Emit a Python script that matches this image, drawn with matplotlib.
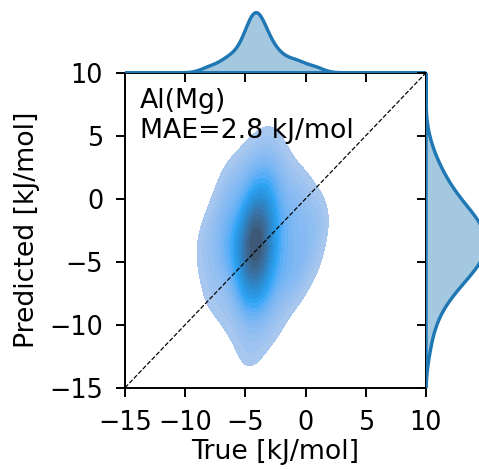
import matplotlib
matplotlib.use("Agg")
import matplotlib.pyplot as plt
import seaborn as sns

# Estimated sample points (True, Predicted) in kJ/mol, read off the density shape
true_kj = [
    -4.8, -4.2, -5.2, -3.6, -5.8, -4.4, -2.9,
    -6.6, -5.0, -4.2, -3.3, -2.2,
    -7.4, -6.0, -5.0, -4.5, -4.1, -3.6, -2.7, -1.5,
    -7.9, -5.9, -5.0, -4.6, -4.35, -4.15, -3.9, -3.5, -2.8, -1.8, -0.7,
    -7.6, -6.5, -5.4, -4.9, -4.6, -4.45, -4.3, -4.15, -4.0, -3.7, -3.3, -2.7, -1.9, -0.9, -0.5,
    -8.2, -6.7, -6.0, -5.3, -4.9, -4.6, -4.45, -4.35, -4.25, -4.15, -4.05, -3.9, -3.7, -3.4, -2.9, -2.2, -1.4, -0.4, 0.6,
    -8.2, -6.8, -6.4, -5.7, -5.2, -4.9, -4.65, -4.5, -4.35, -4.25, -4.2, -4.1, -4.0, -3.85, -3.65, -3.4, -3.0, -2.5, -1.7, -0.6, 0.5,
    -8.3, -6.6, -6.2, -5.5, -5.1, -4.8, -4.6, -4.45, -4.3, -4.2, -4.1, -4.0, -3.9, -3.75, -3.55, -3.3, -2.9, -2.3, -1.4, -0.3, 0.9,
    -7.9, -6.9, -5.8, -5.1, -4.75, -4.5, -4.3, -4.15, -4.05, -3.95, -3.8, -3.6, -3.35, -3.0, -2.5, -1.8, -0.8, 0.4, 1.1,
    -7.2, -6.3, -5.2, -4.6, -4.3, -4.1, -3.95, -3.8, -3.6, -3.3, -2.9, -2.2, -1.2, -0.6, 1.1,
    -6.9, -5.7, -4.6, -4.1, -3.85, -3.6, -3.3, -2.8, -2.0, -0.7, 0.6,
    -6.2, -5.6, -4.5, -3.9, -3.4, -2.8, -1.8, -0.3,
    -6.4, -4.8, -3.9, -3.2, -2.4, -0.9,
    -5.3, -4.0, -3.0, -1.8,
    -4.2, -2.7,
    -3.2,
]
pred_kj = [
    -12.6, -12.0, -11.2, -10.8, -10.1, -9.8, -10.3,
    -9.2, -8.8, -9.1, -8.9, -9.3,
    -8.3, -7.8, -8.1, -7.6, -8.2, -7.7, -8.0, -7.9,
    -7.2, -6.8, -7.1, -6.9, -7.3, -6.7, -7.0, -7.2, -6.6, -7.1, -6.9,
    -6.2, -5.8, -6.1, -5.9, -6.3, -5.7, -6.0, -6.2, -5.6, -6.1, -5.9, -6.3, -5.7, -6.0, -6.1,
    -5.2, -4.8, -5.1, -4.9, -5.3, -4.7, -5.0, -5.2, -4.6, -5.1, -4.9, -5.3, -4.7, -5.0, -5.2, -4.8, -5.1, -4.9, -5.0,
    -4.3, -3.8, -4.1, -3.7, -4.4, -3.9, -4.2, -3.6, -4.0, -4.3, -3.8, -4.1, -3.9, -4.2, -3.6, -4.0, -4.4, -3.7, -4.1, -3.9, -4.2,
    -3.3, -2.8, -3.1, -2.7, -3.4, -2.9, -3.2, -2.6, -3.0, -3.3, -2.8, -3.1, -2.9, -3.2, -2.6, -3.0, -3.4, -2.7, -3.1, -2.9, -3.0,
    -2.2, -1.8, -2.1, -1.9, -2.3, -1.7, -2.0, -2.2, -1.6, -2.1, -1.9, -2.3, -1.7, -2.0, -2.2, -1.8, -2.1, -1.9, -2.0,
    -1.2, -0.8, -1.1, -0.9, -1.3, -0.7, -1.0, -1.2, -0.6, -1.1, -0.9, -1.3, -0.7, -1.0, -1.1,
    -0.2, 0.2, -0.1, 0.1, -0.3, 0.3, 0.0, -0.2, 0.4, -0.1, 0.1,
    0.8, 1.2, 0.9, 1.1, 0.7, 1.3, 1.0, 0.9,
    1.8, 2.2, 1.9, 2.1, 2.3, 1.7,
    2.9, 3.2, 2.8, 3.1,
    3.9, 4.2,
    5.0,
]
axis_lim = [-15, 10]
tick_vals = [-15, -10, -5, 0, 5, 10]
annotation = "Al(Mg)\nMAE=2.8 kJ/mol"
x_label = "True [kJ/mol]"
y_label = "Predicted [kJ/mol]"

plt.rcParams['font.family'] = ['DejaVu Sans']
DPI = 175
fig = plt.figure(figsize=(479 / DPI, 469 / DPI), dpi=DPI)

L, B, W, H = 125 / 479, (469 - 387.7) / 469, 301 / 479, 315 / 469
mh = 63 / 469
mw = 63 / 479
ax = fig.add_axes([L, B, W, H])
axx = fig.add_axes([L, B + H, W, mh], sharex=ax)
axy = fig.add_axes([L + W, B, mw, H], sharey=ax)

sns.kdeplot(x=true_kj, y=pred_kj, fill=True, levels=20, thresh=0.05,
            color='C0', ax=ax)
sns.kdeplot(x=true_kj, ax=axx, fill=True, color='C0', alpha=0.4,
            linewidth=1.4, cut=30, gridsize=3000)
sns.kdeplot(y=pred_kj, ax=axy, fill=True, color='C0', alpha=0.4,
            linewidth=1.4, cut=30, gridsize=3000)

ax.plot(axis_lim, axis_lim, 'k--', lw=0.5)
ax.set_xlim(axis_lim)
ax.set_ylim(axis_lim)
ax.set_xticks(tick_vals)
ax.set_yticks(tick_vals)
ax.tick_params(labelsize=10.5, pad=5.5)
ax.set_xlabel(x_label, fontsize=11, labelpad=1.5)
ax.set_ylabel(y_label, fontsize=11)
ax.text(0.05, 0.95, annotation, transform=ax.transAxes, va='top', ha='left',
        fontsize=11)

for a in (axx, axy):
    for s in a.spines.values():
        s.set_visible(False)
    a.set_xlabel("")
    a.set_ylabel("")
axx.set_ylim(bottom=0)
axy.set_xlim(left=0)
axx.tick_params(axis='x', labelbottom=False, bottom=True)
axx.tick_params(axis='y', left=False, labelleft=False)
axy.tick_params(axis='y', labelleft=False, left=True)
axy.tick_params(axis='x', bottom=False, labelbottom=False)

fig.savefig("out.png", dpi=DPI)
